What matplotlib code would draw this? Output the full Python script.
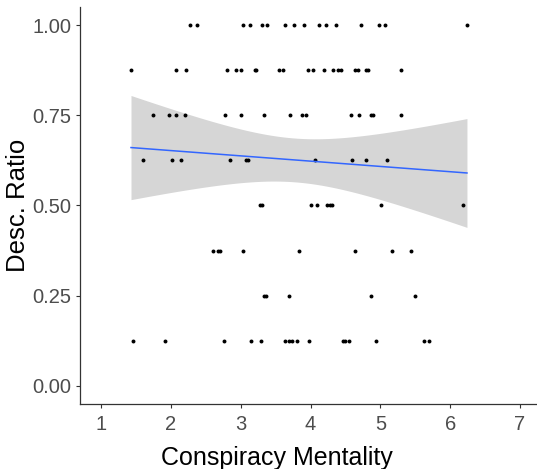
import numpy as np
import matplotlib
matplotlib.use("Agg")
import matplotlib.pyplot as plt

plt.rcParams["font.family"] = ["Liberation Sans", "DejaVu Sans"]

# conspiracy mentality scores, grouped by the descriptive ratio they sit at
x_100 = [2.28, 2.37, 3.03, 3.13, 3.31, 3.38, 3.63, 3.76, 3.90, 4.12, 4.22, 4.37, 4.73, 4.98, 5.06, 6.24]
x_875 = [1.43, 2.08, 2.22, 2.81, 2.93, 3.01, 3.20, 3.22, 3.55, 3.61, 3.96, 4.04, 4.20, 4.32,
         4.40, 4.44, 4.64, 4.68, 4.80, 4.82, 5.30]
x_750 = [1.75, 1.97, 2.07, 2.20, 2.77, 3.00, 3.33, 3.70, 3.88, 3.94, 4.58, 4.70, 4.87, 4.90, 5.29]
x_625 = [1.60, 2.02, 2.14, 2.85, 3.07, 3.11, 4.06, 4.60, 4.79, 5.10]
x_500 = [3.28, 3.31, 4.00, 4.10, 4.23, 4.28, 4.31, 5.01, 6.18]
x_375 = [2.60, 2.67, 2.70, 3.03, 3.83, 4.63, 5.17, 5.44]
x_250 = [3.33, 3.36, 3.69, 4.86, 5.49]
x_125 = [1.46, 1.92, 2.76, 3.15, 3.29, 3.63, 3.69, 3.73, 3.80, 3.98, 4.47, 4.50, 4.55, 4.94, 5.63, 5.70]

groups = {1.0: x_100, 0.875: x_875, 0.75: x_750, 0.625: x_625,
          0.5: x_500, 0.375: x_375, 0.25: x_250, 0.125: x_125}

x = np.concatenate([np.array(v) for v in groups.values()])
y = np.concatenate([np.full(len(v), k) for k, v in groups.items()])

x_ticks = [1, 2, 3, 4, 5, 6, 7]
y_ticks = [0.0, 0.25, 0.5, 0.75, 1.0]
y_ticklabels = ["0.00", "0.25", "0.50", "0.75", "1.00"]

# linear fit with 95% confidence band (like geom_smooth(method="lm"))
n = len(x)
slope, intercept = np.polyfit(x, y, 1)
resid = y - (intercept + slope * x)
s = np.sqrt(np.sum(resid ** 2) / (n - 2))
xs = np.linspace(x.min(), x.max(), 80)
ys = intercept + slope * xs
se = s * np.sqrt(1 / n + (xs - x.mean()) ** 2 / np.sum((x - x.mean()) ** 2))
tcrit = 1.99
lo, hi = ys - tcrit * se, ys + tcrit * se

fig = plt.figure(figsize=(5.37, 4.69), dpi=100)
ax = fig.add_axes([80 / 537, 65 / 469, 461 / 537, 397 / 469])

ax.fill_between(xs, lo, hi, color="#999999", alpha=0.4, linewidth=0, zorder=1)
ax.scatter(x, y, s=8, color="black", linewidths=0, zorder=2)
ax.plot(xs, ys, color="#3366FF", linewidth=1.1, zorder=3)

ax.set_xlim(0.7, 7.3)
ax.set_ylim(-0.05, 1.05)
ax.set_xticks(x_ticks)
ax.set_yticks(y_ticks)
ax.set_yticklabels(y_ticklabels)

for side in ["top", "right"]:
    ax.spines[side].set_visible(False)
for side in ["left", "bottom"]:
    ax.spines[side].set_color("#333333")
    ax.spines[side].set_linewidth(0.9)

ax.tick_params(axis="both", length=3, width=0.8, color="#333333",
               labelsize=14.5, labelcolor="#4D4D4D", pad=3)
ax.tick_params(axis="x", pad=5)

ax.set_xlabel("Conspiracy Mentality", fontsize=18, color="black")
ax.xaxis.set_label_coords((277 - 80) / 461, -0.105)
ax.set_ylabel("Desc. Ratio", fontsize=18.5, color="black")
ax.yaxis.set_label_coords(-0.108, 0.5)

fig.savefig("out.png", dpi=100)
